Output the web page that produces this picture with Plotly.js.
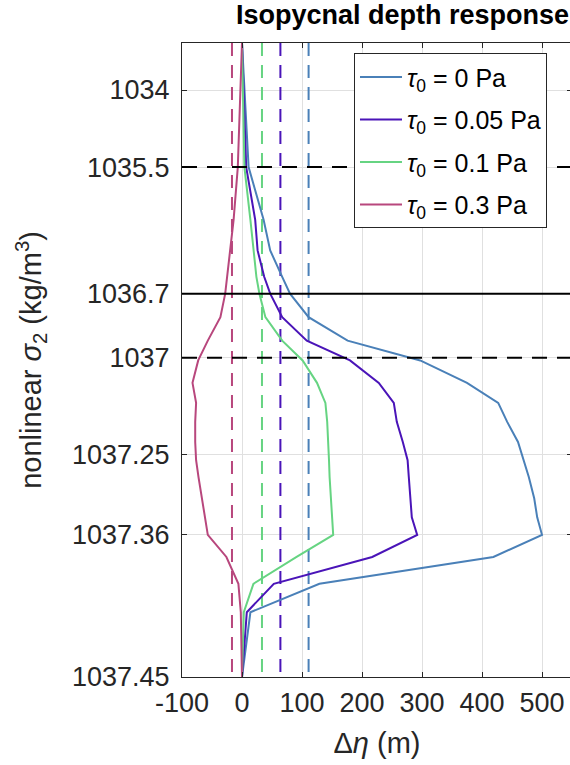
<!DOCTYPE html>
<html>
<head>
<meta charset="utf-8">
<script src="https://cdn.plot.ly/plotly-3.0.1.min.js"></script>
<style>
html,body{margin:0;padding:0;overflow:hidden;background:#fff;}
#chart{width:572px;height:765px;}
</style>
</head>
<body>
<div id="chart"></div>
<script>
// ---- nonlinear sigma_2 axis definition (sigma -> fraction from top) ----
const scaleSigma = [1033.08, 1034, 1035.5, 1036.7, 1037, 1037.25, 1037.36, 1037.45];
const scalePos   = [0, 0.0742, 0.1957, 0.3954, 0.4964, 0.6488, 0.7758, 1];

// ---- tick labels ----
const tickSigma  = [1034, 1035.5, 1036.7, 1037, 1037.25, 1037.36, 1037.45];
const tickLabels = ['1034', '1035.5', '1036.7', '1037', '1037.25', '1037.36', '1037.45'];
const xTicks     = [-100, 0, 100, 200, 300, 400, 500];

// ---- data: isopycnal levels (sigma_2) ----
const levels = [1033.08, 1035.5, 1036.0, 1036.29, 1036.54, 1036.7, 1036.81, 1036.92, 1037.007,
                1037.065, 1037.117, 1037.166, 1037.218, 1037.258, 1037.281, 1037.31, 1037.336,
                1037.36, 1037.374, 1037.391, 1037.409, 1037.45];

// depth response (m) per wind stress
const eta_tau0    = [0, 11, 36, 47, 67, 80, 111, 176, 297, 375, 427, 442, 460, 470, 478, 487, 492, 500, 419, 129, 14, 0];
const eta_tau005  = [0, 7, 22, 26, 37, 47, 67, 108, 180, 228, 253, 258, 268, 276, 278, 281, 283, 292, 217, 53, 8, 0];
const eta_tau01   = [0, 4, 14, 20, 24, 29, 39, 67, 101, 125, 139, 142, 144, 145, 146, 148, 150, 152, 91, 19, 3, 0];
const eta_tau03   = [0, -7, -14, -19.5, -24, -28, -36, -57, -73, -82.5, -76.5, -78, -78, -76.5, -72.5, -67, -62, -57, -26, -6, -2, 0];

// mean responses (vertical dashed lines)
const meanEta = [111, 64, 33.3, -16.7];

// reference isopycnals
const refSigma = [1035.5, 1036.7, 1037];
const refDash  = [true, false, true];

const seriesNames = ['<i>τ</i><sub>0</sub> = 0 Pa', '<i>τ</i><sub>0</sub> = 0.05 Pa',
                     '<i>τ</i><sub>0</sub> = 0.1 Pa', '<i>τ</i><sub>0</sub> = 0.3 Pa'];
const seriesData  = [eta_tau0, eta_tau005, eta_tau01, eta_tau03];
const colors      = ['#4a80b8', '#4a14b8', '#66d482', '#b8477d'];

function toPos(s) {
  for (let i = 0; i < scaleSigma.length - 1; i++) {
    const a = scaleSigma[i], b = scaleSigma[i + 1];
    if (s <= b || i === scaleSigma.length - 2) {
      return scalePos[i] + (s - a) / (b - a) * (scalePos[i + 1] - scalePos[i]);
    }
  }
}

const FONT = 'Liberation Sans, Arial, Helvetica, sans-serif';
const yPos = levels.map(toPos);
const traces = [];

// vertical mean lines
meanEta.forEach((m, i) => {
  traces.push({
    x: [m, m], y: [toPos(scaleSigma[0]), toPos(scaleSigma[scaleSigma.length - 1])],
    mode: 'lines', line: {color: colors[i], width: 2, dash: '13px,9px'},
    showlegend: false, hoverinfo: 'skip'
  });
});

seriesData.forEach((d, i) => {
  traces.push({
    x: d, y: yPos, mode: 'lines', name: seriesNames[i],
    legendgroup: 'g' + i,
    line: {color: colors[i], width: 2}
  });
});

const shapes = refSigma.map((s, i) => ({
  type: 'line', xref: 'paper', x0: 0, x1: 1, yref: 'y', y0: toPos(s), y1: toPos(s),
  line: {color: '#000', width: 2, dash: refDash[i] ? '15px,10px' : 'solid'}, layer: 'above'
}));

const layout = {
  width: 572, height: 765,
  margin: {l: 182, r: 0, t: 43, b: 88},
  paper_bgcolor: '#fff', plot_bgcolor: '#fff',
  font: {family: FONT, color: '#262626', size: 27},
  showlegend: true,
  title: {
    text: '<b>Isopycnal depth response</b>',
    font: {family: FONT, size: 27, color: '#000'},
    xref: 'container', x: 0.7037, xanchor: 'center',
    yref: 'container', y: 0.981, yanchor: 'middle'
  },
  xaxis: {
    range: [-100, 550], tickvals: xTicks, ticktext: xTicks.map(String),
    ticks: 'inside', ticklen: 5, tickcolor: '#262626', tickwidth: 1,
    showline: true, linecolor: '#262626', linewidth: 1, mirror: 'ticks',
    showgrid: true, gridcolor: '#e0e0e0', gridwidth: 1, zeroline: false,
    tickfont: {family: FONT, size: 27, color: '#262626'},
    ticklabelstandoff: 2,
    title: {text: 'Δ<i>η</i> (m)', font: {family: FONT, size: 29, color: '#262626'}, standoff: 15}
  },
  yaxis: {
    range: [1, 0], tickvals: tickSigma.map(toPos), ticktext: tickLabels,
    ticks: 'inside', ticklen: 5, tickcolor: '#262626', tickwidth: 1,
    showline: true, linecolor: '#262626', linewidth: 1, mirror: 'ticks',
    showgrid: true, gridcolor: '#e0e0e0', gridwidth: 1, zeroline: false,
    tickfont: {family: FONT, size: 27, color: '#262626'},
    ticklabelstandoff: 6,
    title: {text: 'nonlinear <i>σ</i><sub>2</sub> (kg/m<sup>3</sup>)', font: {family: FONT, size: 29, color: '#262626'}, standoff: 21}
  },
  legend: {
    x: 0.441, y: 0.984, xanchor: 'left', yanchor: 'top',
    bgcolor: '#fff', bordercolor: '#262626', borderwidth: 1,
    font: {family: FONT, size: 25, color: '#000'},
    traceorder: 'grouped', tracegroupgap: 7, itemwidth: 42
  },
  shapes: shapes
};

Plotly.newPlot('chart', traces, layout, {displayModeBar: false, staticPlot: true});
</script>
</body>
</html>
